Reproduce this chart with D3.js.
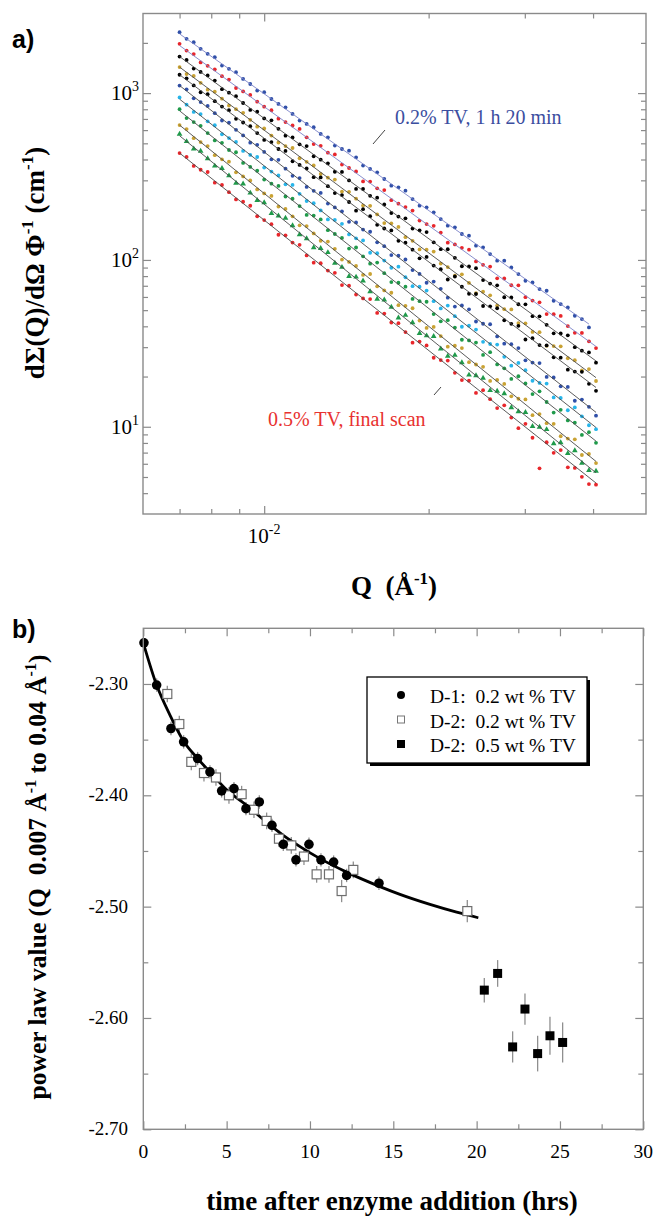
<!DOCTYPE html>
<html>
<head>
<meta charset="utf-8">
<script src="https://cdn.jsdelivr.net/npm/d3@7"></script>
<style>
  body { margin: 0; background: #fff; }
  svg text { font-family: "Liberation Serif", "Times New Roman", serif; }
</style>
</head>
<body>
<svg id="fig" width="655" height="1216"></svg>
<script>
// ---------- panel a: scattering curves ----------
// Q grid of the measured points (1/Angstrom)
const qGrid = [0.00700, 0.00721, 0.00743, 0.00765, 0.00788, 0.00812, 0.00837, 0.00862, 0.00888, 0.00915,
  0.00943, 0.00971, 0.01000, 0.01031, 0.01062, 0.01094, 0.01127, 0.01161, 0.01196, 0.01232,
  0.01269, 0.01308, 0.01347, 0.01388, 0.01430, 0.01473, 0.01517, 0.01563, 0.01610, 0.01659,
  0.01709, 0.01761, 0.01814, 0.01869, 0.01925, 0.01983, 0.02043, 0.02105, 0.02168, 0.02234,
  0.02301, 0.02371, 0.02442, 0.02516, 0.02592, 0.02670, 0.02751, 0.02834, 0.02920, 0.03008,
  0.03099, 0.03192, 0.03289, 0.03388, 0.03490, 0.03596, 0.03704, 0.03816, 0.03931, 0.04050];

// series from top to bottom
const seriesColors = ['#2f4fa8', '#e8262b', '#000000', '#c9a233', '#000000', '#2f4fa8',
  '#27b5ea', '#1f9a4a', '#c9a233', '#1f9a4a', '#e8262b'];
const seriesShapes = ['circle', 'circle', 'circle', 'circle', 'circle', 'circle',
  'circle', 'circle', 'circle', 'triangle', 'circle'];
const lineColors = ['#7a82c8', '#7a82c8', '#4a4a4a', '#4a4a4a', '#4a4a4a', '#4a4a4a',
  '#4a4a4a', '#4a4a4a', '#4a4a4a', '#4a4a4a', '#4a4a4a'];
// power-law fit lines: intensity at Q = 0.007 and at Q = 0.0405 (cm^-1)
const fitStart = [2265, 1928, 1656, 1432, 1288, 1110, 920, 783, 643, 555, 437];
const fitEnd = [38.5, 30.3, 24.8, 19.7, 17.2, 12.2, 9.9, 8.2, 6.2, 5.3, 4.6];
// deviation of each point from its fit line, in 0.01 decades
const residuals = [
  [1,0,1,0,0,1,-1,0,1,0, 0,-1,1,0,0,1,0,-1,0,1, 0,1,-1,0,2,1,-1,0,1,0, -1,1,2,0,-1,1,1,0,-1,1, 0,2,-1,1,0,-1,2,1,0,-1, 1,0,2,-1,0,1,-1,0,-2,null],
  [1,0,1,-1,0,1,0,1,-1,0, 1,0,0,1,-1,0,1,2,0,-1, 1,0,2,-1,0,1,-2,1,0,2, -1,0,1,2,-1,0,2,1,-2,0, 1,3,-1,0,2,-2,1,0,3,-1, 0,2,-2,1,3,0,-1,2,0,-1],
  [0,1,-1,0,1,1,-1,0,1,0, -1,1,0,2,0,-1,1,0,2,-1, 0,1,-1,2,0,-2,1,0,2,1, -1,0,2,-1,1,3,0,-1,2,0, -2,1,3,-1,0,2,-2,1,0,3, -1,2,0,-2,1,3,-1,0,2,-1],
  [0,-1,1,0,-1,1,0,-1,0,1, 0,-1,1,0,-1,0,2,-1,0,1, -1,0,2,-2,1,0,-1,2,0,-2, 1,2,-1,0,-2,1,3,-1,0,-2, 2,0,-3,1,2,-1,0,3,-2,1, -1,2,-3,0,3,-1,1,-2,2,-2],
  [0,1,0,-1,1,0,0,1,-1,0, 1,0,-1,1,0,2,-1,0,1,-1, 2,0,-1,1,0,-2,2,1,-1,0, 2,-1,1,0,-2,2,0,1,-2,3, 0,-1,2,-2,1,3,-1,0,2,-3, 1,0,3,-1,2,-2,0,3,-1,-2],
  [0,1,-1,0,1,0,-1,1,0,0, -1,1,0,-1,2,0,-1,1,-1,0, 2,-1,0,1,-2,1,0,2,-1,0, -2,1,2,-1,0,-2,2,1,-1,-3, 1,2,-2,0,3,-1,-2,1,2,-2, 0,3,-2,1,-1,2,-3,1,0,-2],
  [1,0,-1,1,0,1,-1,0,1,-1, 0,2,-1,0,1,-1,2,0,-1,1, 0,-2,1,2,-1,0,2,-2,1,0, -1,3,0,-2,1,2,-1,-2,3,0, -3,1,2,-2,0,3,-1,-3,2,1, -2,0,3,-2,1,-3,2,0,-2,-1],
  [1,-1,0,1,0,-1,1,0,2,-1, 0,1,-1,0,2,-1,1,0,-2,1, 2,-1,0,1,-2,2,0,-1,3,0, -2,1,2,-2,0,3,-1,-2,2,1, -3,0,2,-2,3,-1,0,-3,2,1, -2,3,0,-3,2,-1,1,-3,2,-1],
  [0,1,-1,0,1,-1,0,2,-1,0, 1,-1,0,2,-1,1,0,-2,1,0, -1,2,1,-2,0,1,-1,3,-1,0, 2,-2,1,3,-1,-2,2,0,-3,1, 3,-2,0,2,-3,1,2,-2,0,3, -3,1,-1,2,-2,0,3,-3,1,-1],
  [1,0,-1,1,0,-1,1,0,-1,2, 0,-1,1,-2,0,2,1,-1,0,-2, 1,2,-1,0,-2,1,2,-1,-2,1, 0,-3,2,1,-2,0,3,-1,-2,2, 1,-3,0,2,-2,1,3,-2,-1,2, -3,0,2,-3,1,-2,3,-1,-2,1],
  [0,1,-1,0,2,-1,1,0,-1,1, 2,-1,0,1,-2,1,0,2,-1,-2, 1,0,2,-2,1,-1,0,3,-2,1, -1,2,0,-3,1,2,-2,0,3,-1, -2,1,-3,2,0,-2,3,-1,-4,2, -3,-18,1,-2,3,-4,-1,-3,-4,-1]
];
const yTicksMajorA = [10, 100, 1000];
const yTicksMinorA = [4, 5, 6, 7, 8, 9, 20, 30, 40, 50, 60, 70, 80, 90, 200, 300, 400, 500, 600, 700, 800, 900, 2000];
const xTicksMajorA = [0.01];
const xTicksMinorA = [0.007, 0.008, 0.009, 0.02, 0.03, 0.04];

// ---------- panel b: power-law exponent vs time ----------
const d1Time = [0.04, 0.8, 1.66, 2.42, 3.26, 4.0, 4.7, 5.44, 6.16, 6.96, 7.72, 8.4, 9.16, 9.94, 10.66, 11.42, 12.2, 14.14];
const d1Val = [-2.263, -2.301, -2.340, -2.352, -2.367, -2.379, -2.396, -2.394, -2.412, -2.406, -2.427, -2.444, -2.458, -2.444, -2.458, -2.460, -2.472, -2.479];
const d1Err = [0.004, 0.006, 0.006, 0.006, 0.006, 0.006, 0.006, 0.006, 0.006, 0.006, 0.006, 0.006, 0.006, 0.006, 0.006, 0.006, 0.006, 0.006];
const d2Time = [1.44, 2.16, 2.88, 3.64, 4.36, 5.14, 5.9, 6.64, 7.4, 8.14, 8.88, 9.64, 10.4, 11.14, 11.9, 12.6, 19.44];
const d2Val = [-2.309, -2.336, -2.370, -2.380, -2.384, -2.400, -2.399, -2.413, -2.423, -2.439, -2.445, -2.455, -2.471, -2.471, -2.486, -2.467, -2.504];
const d2Err = [0.0075, 0.0075, 0.0075, 0.0075, 0.0075, 0.0075, 0.0075, 0.0075, 0.0075, 0.0075, 0.0075, 0.0075, 0.0075, 0.0075, 0.010, 0.0075, 0.010];
const d5Time = [20.46, 21.26, 22.16, 22.9, 23.66, 24.4, 25.16];
const d5Val = [-2.575, -2.560, -2.626, -2.592, -2.632, -2.616, -2.622];
const d5Err = [0.011, 0.012, 0.014, 0.014, 0.016, 0.017, 0.018];
// smooth guide curve through the 0.2 % data
const fitTime = [0, 0.8, 1.6, 2.4, 3.2, 4.0, 5.0, 6.2, 7.3, 8.4, 9.5, 10.5, 12.2, 14.2, 15.4, 17.2, 18.8, 20.1];
const fitVal = [-2.263, -2.301, -2.328, -2.351, -2.366, -2.379, -2.395, -2.409, -2.423, -2.436, -2.447, -2.456, -2.469, -2.482, -2.489, -2.498, -2.505, -2.510];
const xTicksB = [0, 5, 10, 15, 20, 25, 30];
const xMinorB = [2.5, 7.5, 12.5, 17.5, 22.5, 27.5];
const yTicksB = [-2.30, -2.40, -2.50, -2.60, -2.70];
const yMinorB = [-2.35, -2.45, -2.55, -2.65];
const legendLabels = ['D-1:  0.2 wt % TV', 'D-2:  0.2 wt % TV', 'D-2:  0.5 wt % TV'];

const frameColor = '#8a8a8a';
const svg = d3.select('#fig');

function inwardTicks(g, axisFn, scale, values, size) {
  g.call(axisFn(scale).tickValues(values).tickSize(-size).tickFormat(''))
    .call(g => g.select('.domain').remove())
    .call(g => g.selectAll('.tick line').attr('stroke', frameColor).attr('stroke-width', 1.2));
}

function frameTicks(x, y, xMaj, xMin, yMaj, yMin) {
  const [x0, x1] = x.range();
  const [y0, y1] = y.range();
  const sets = [
    [d3.axisBottom, x, `translate(0,${y0})`, xMaj, xMin],
    [d3.axisTop, x, `translate(0,${y1})`, xMaj, xMin],
    [d3.axisLeft, y, `translate(${x0},0)`, yMaj, yMin],
    [d3.axisRight, y, `translate(${x1},0)`, yMaj, yMin]
  ];
  sets.forEach(([fn, sc, tr, maj, min]) => {
    inwardTicks(svg.append('g').attr('transform', tr), fn, sc, maj, 8);
    inwardTicks(svg.append('g').attr('transform', tr), fn, sc, min, 5);
  });
  svg.append('rect')
    .attr('x', x0).attr('y', y1).attr('width', x1 - x0).attr('height', y0 - y1)
    .attr('fill', 'none').attr('stroke', frameColor).attr('stroke-width', 1.4);
}

// ===== panel a =====
const xA = d3.scaleLog().domain([0.006, 0.05]).range([143, 646]);
const yA = d3.scaleLog().domain([3, 3000]).range([514, 13.5]);
const qLast = qGrid[qGrid.length - 1];

residuals.forEach((res, k) => {
  const p = Math.log(fitEnd[k] / fitStart[k]) / Math.log(qLast / qGrid[0]);
  const fit = q => fitStart[k] * Math.pow(q / qGrid[0], p);
  const pts = qGrid.map((q, i) => ({ q, r: res[i] })).filter(d => d.r !== null);
  const g = svg.append('g');

  if (seriesShapes[k] === 'triangle') {
    g.selectAll('path').data(pts).enter().append('path')
      .attr('d', d3.symbol(d3.symbolTriangle).size(14))
      .attr('transform', d => `translate(${xA(d.q)},${yA(fit(d.q) * Math.pow(10, d.r / 100))})`)
      .attr('fill', seriesColors[k]);
  } else {
    g.selectAll('circle').data(pts).enter().append('circle')
      .attr('cx', d => xA(d.q))
      .attr('cy', d => yA(fit(d.q) * Math.pow(10, d.r / 100)))
      .attr('r', 1.9)
      .attr('fill', seriesColors[k]);
  }

  const qEnd = pts[pts.length - 1].q;
  svg.append('line')
    .attr('x1', xA(qGrid[0])).attr('y1', yA(fit(qGrid[0])))
    .attr('x2', xA(qEnd)).attr('y2', yA(fit(qEnd)))
    .attr('stroke', lineColors[k]).attr('stroke-width', 0.9);
});

frameTicks(xA, yA, xTicksMajorA, xTicksMinorA, yTicksMajorA, yTicksMinorA);

// tick labels a
yTicksMajorA.forEach(v => {
  const t = svg.append('text').attr('x', 139).attr('y', yA(v) + 7)
    .attr('text-anchor', 'end').style('font-size', '21px');
  t.append('tspan').text('10');
  t.append('tspan').attr('dy', -9).style('font-size', '14px').text(Math.round(Math.log10(v)));
});
xTicksMajorA.forEach(v => {
  const t = svg.append('text').attr('x', xA(v)).attr('y', 543)
    .attr('text-anchor', 'middle').style('font-size', '21px');
  t.append('tspan').text('10');
  t.append('tspan').attr('dy', -9).style('font-size', '14px').text(Math.round(Math.log10(v)));
});

// annotations
svg.append('text').attr('x', 395).attr('y', 124).style('font-size', '20px')
  .attr('fill', '#3b4ea0').text('0.2% TV, 1 h 20 min');
svg.append('line').attr('x1', 385).attr('y1', 130).attr('x2', 373).attr('y2', 144)
  .attr('stroke', '#444').attr('stroke-width', 1);
svg.append('text').attr('x', 268).attr('y', 426).style('font-size', '20px')
  .attr('fill', '#e8312f').text('0.5% TV, final scan');
svg.append('line').attr('x1', 441).attr('y1', 387).attr('x2', 434).attr('y2', 395)
  .attr('stroke', '#444').attr('stroke-width', 1);

// axis titles a
const yTitleA = svg.append('text')
  .attr('transform', 'translate(44,263) rotate(-90)')
  .attr('text-anchor', 'middle').style('font-size', '27px').style('font-weight', 'bold');
yTitleA.append('tspan').text('dΣ(Q)/dΩ Φ');
yTitleA.append('tspan').attr('dy', -11).style('font-size', '17px').text('-1');
yTitleA.append('tspan').attr('dy', 11).text(' (cm');
yTitleA.append('tspan').attr('dy', -11).style('font-size', '17px').text('-1');
yTitleA.append('tspan').attr('dy', 11).text(')');

const xTitleA = svg.append('text').attr('x', 394).attr('y', 595)
  .attr('text-anchor', 'middle').style('font-size', '27px').style('font-weight', 'bold')
  .style('white-space', 'pre');
xTitleA.append('tspan').text('Q  (Å');
xTitleA.append('tspan').attr('dy', -11).style('font-size', '17px').text('-1');
xTitleA.append('tspan').attr('dy', 11).text(')');

svg.append('text').attr('x', 12).attr('y', 48)
  .style('font-family', '"Liberation Sans", Arial, sans-serif')
  .style('font-size', '25px').style('font-weight', 'bold').text('a)');

// ===== panel b =====
const xB = d3.scaleLinear().domain([0, 30]).range([143.3, 643.3]);
const yB = d3.scaleLinear().domain([-2.70, -2.25]).range([1129.3, 628.3]);

const errColor = '#8f8f8f';
function errorBars(time, val, err) {
  svg.append('g').selectAll('line').data(time).enter().append('line')
    .attr('x1', d => xB(d)).attr('x2', d => xB(d))
    .attr('y1', (d, i) => yB(val[i] - err[i])).attr('y2', (d, i) => yB(val[i] + err[i]))
    .attr('stroke', errColor).attr('stroke-width', 1.3);
}
errorBars(d1Time, d1Val, d1Err);
errorBars(d2Time, d2Val, d2Err);
errorBars(d5Time, d5Val, d5Err);

svg.append('path')
  .datum(fitTime.map((t, i) => [t, fitVal[i]]))
  .attr('d', d3.line().x(d => xB(d[0])).y(d => yB(d[1])).curve(d3.curveMonotoneX))
  .attr('fill', 'none').attr('stroke', '#000').attr('stroke-width', 2.8);

svg.append('g').selectAll('rect').data(d2Time).enter().append('rect')
  .attr('x', d => xB(d) - 4.5).attr('y', (d, i) => yB(d2Val[i]) - 4.5)
  .attr('width', 9).attr('height', 9)
  .attr('fill', '#fff').attr('stroke', '#6e6e6e').attr('stroke-width', 1.2);
svg.append('g').selectAll('circle').data(d1Time).enter().append('circle')
  .attr('cx', d => xB(d)).attr('cy', (d, i) => yB(d1Val[i])).attr('r', 4.8)
  .attr('fill', '#000');
svg.append('g').selectAll('rect').data(d5Time).enter().append('rect')
  .attr('x', d => xB(d) - 4.5).attr('y', (d, i) => yB(d5Val[i]) - 4.5)
  .attr('width', 9).attr('height', 9).attr('fill', '#000');

frameTicks(xB, yB, xTicksB, xMinorB, yTicksB, yMinorB);

xTicksB.forEach(v => {
  svg.append('text').attr('x', xB(v)).attr('y', 1158).attr('text-anchor', 'middle')
    .style('font-size', '19.5px').text(v);
});
yTicksB.forEach(v => {
  svg.append('text').attr('x', 128).attr('y', yB(v) + 6).attr('text-anchor', 'end')
    .style('font-size', '19px').text(v.toFixed(2));
});

// legend
const lg = svg.append('g');
lg.append('rect').attr('x', 370).attr('y', 680).attr('width', 220).attr('height', 86).attr('fill', '#000');
lg.append('rect').attr('x', 367).attr('y', 677).attr('width', 220).attr('height', 86)
  .attr('fill', '#fff').attr('stroke', '#000').attr('stroke-width', 1.3);
legendLabels.forEach((lab, i) => {
  const cy = 695 + i * 24.5;
  if (i === 0) lg.append('circle').attr('cx', 401).attr('cy', cy).attr('r', 4).attr('fill', '#000');
  if (i === 1) lg.append('rect').attr('x', 397.5).attr('y', cy - 3.5).attr('width', 7).attr('height', 7)
    .attr('fill', '#fff').attr('stroke', '#777').attr('stroke-width', 1);
  if (i === 2) lg.append('rect').attr('x', 397).attr('y', cy - 4).attr('width', 8).attr('height', 8).attr('fill', '#000');
  lg.append('text').attr('x', 430).attr('y', cy + 8).style('font-size', '19.5px')
    .style('white-space', 'pre').text(lab);
});

// axis titles b
svg.append('text').attr('x', 392).attr('y', 1210).attr('text-anchor', 'middle')
  .style('font-size', '27px').style('font-weight', 'bold').text('time after enzyme addition (hrs)');

const yTitleB = svg.append('text')
  .attr('transform', 'translate(46,877) rotate(-90)')
  .attr('text-anchor', 'middle').style('font-size', '25.5px').style('font-weight', 'bold')
  .style('white-space', 'pre');
yTitleB.append('tspan').text('power law value (Q  0.007 Å');
yTitleB.append('tspan').attr('dy', -10).style('font-size', '16px').text('-1');
yTitleB.append('tspan').attr('dy', 10).text(' to 0.04 Å');
yTitleB.append('tspan').attr('dy', -10).style('font-size', '16px').text('-1');
yTitleB.append('tspan').attr('dy', 10).text(')');

svg.append('text').attr('x', 12).attr('y', 638)
  .style('font-family', '"Liberation Sans", Arial, sans-serif')
  .style('font-size', '25px').style('font-weight', 'bold').text('b)');
</script>
</body>
</html>
